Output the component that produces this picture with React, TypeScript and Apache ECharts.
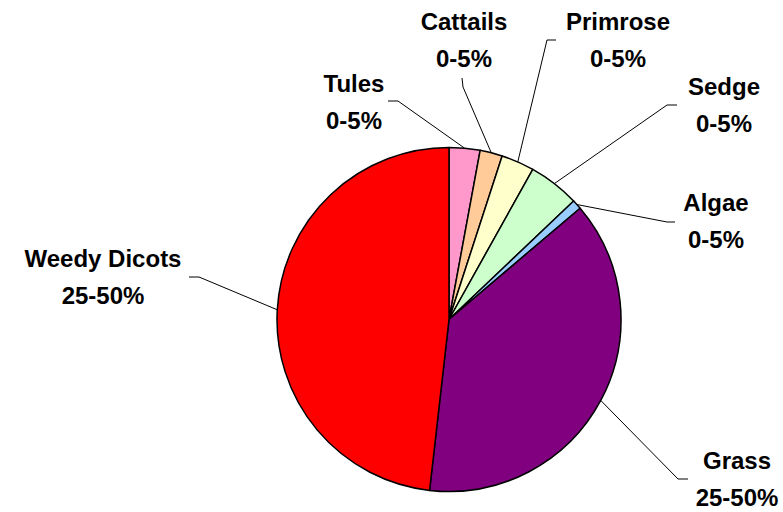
import React, { useEffect, useRef } from "react";
import * as echarts from "echarts";

const categories = ["Tules", "Cattails", "Primrose", "Sedge", "Algae", "Grass", "Weedy Dicots"];
const shares = [2.9, 2.1, 3.1, 4.8, 0.9, 38.0, 48.2];
const rangeLabels = ["0-5%", "0-5%", "0-5%", "0-5%", "0-5%", "25-50%", "25-50%"];
const colors = ["#FF99CC", "#FFCC99", "#FFFFCC", "#CCFFCC", "#99CCFF", "#800080", "#FF0000"];

// label layout (px): text block centre, leader-line elbow, leader-line end
const labelCenters = [[354, 102], [464, 40], [618, 40], [724, 105], [716, 221], [737, 479], [103, 277]];
const leaderElbows = [[398, 101], [463, 87], [547, 40], [667, 105], [667, 222], [678, 479], [199, 277]];
const leaderEnds = [[388, 101], [462, 78], [556, 40], [677, 105], [675, 222], [688, 479], [189, 277]];

const CX = 449;
const CY = 319.5;
const R = 172;

function edgePoint(i: number): number[] {
  const total = shares.reduce((a, b) => a + b, 0);
  let cum = 0;
  for (let k = 0; k < i; k++) cum += shares[k];
  const frac = (cum + shares[i] / 2) / total;
  const t = frac * Math.PI * 2;
  return [CX + R * Math.sin(t), CY - R * Math.cos(t)];
}

export default function App() {
  const ref = useRef<HTMLDivElement>(null);
  useEffect(() => {
    if (!ref.current) return;
    const chart = echarts.init(ref.current, null, { renderer: "svg" });
    chart.setOption({
      animation: false,
      backgroundColor: "#FFFFFF",
      series: [
        {
          type: "pie",
          center: [CX, CY],
          radius: R,
          startAngle: 90,
          clockwise: true,
          avoidLabelOverlap: false,
          data: categories.map((name, i) => ({
            name,
            value: shares[i],
            itemStyle: { color: colors[i] },
          })),
          itemStyle: { borderColor: "#000000", borderWidth: 1.5 },
          emphasis: { disabled: true },
          label: {
            show: true,
            position: "outside",
            formatter: (p: any) => `${p.name}\n${rangeLabels[p.dataIndex]}`,
            fontFamily: "'Liberation Sans', Arial, sans-serif",
            fontWeight: "bold",
            fontSize: 24,
            lineHeight: 37,
            color: "#000000",
            align: "center",
          },
          labelLine: {
            show: true,
            length: 10,
            length2: 10,
            smooth: false,
            lineStyle: { color: "#000000", width: 1 },
          },
          labelLayout: (params: any) => {
            const i = params.dataIndex;
            const start =
              params.labelLinePoints && params.labelLinePoints[0]
                ? params.labelLinePoints[0]
                : edgePoint(i);
            return {
              x: labelCenters[i][0],
              y: labelCenters[i][1],
              align: "center",
              verticalAlign: "middle",
              labelLinePoints: [start, leaderElbows[i], leaderEnds[i]],
            };
          },
        },
      ],
    });
    return () => chart.dispose();
  }, []);
  return (
    <div
      ref={ref}
      style={{ position: "fixed", left: 0, top: 0, width: 783, height: 512, background: "#fff" }}
    />
  );
}
